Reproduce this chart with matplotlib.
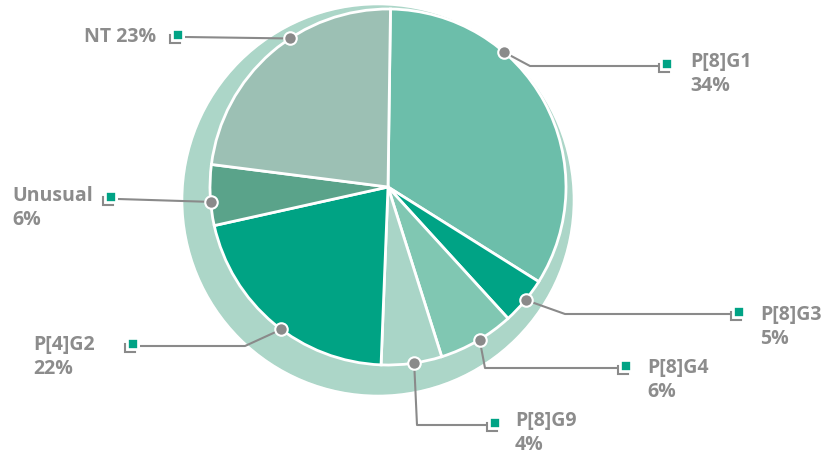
import numpy as np
import matplotlib.pyplot as plt
from matplotlib.patches import Circle, Rectangle

labels = ['P[8]G1', 'P[8]G3', 'P[8]G4', 'P[8]G9', 'P[4]G2', 'Unusual', 'NT']
# slice sizes as drawn in the picture
values = [33.7, 4.3, 6.9, 5.5, 20.9, 5.5, 23.2]
# percentages as printed in the labels
pct_text = ['34%', '5%', '6%', '4%', '22%', '6%', '23%']
colors = ['#6cbeaa', '#00a385', '#80c7b2', '#a9d5c7', '#00a384', '#5aa38a', '#9cc0b4']

W, H = 825, 456
def py(y):
    return H - y

# layout (pixel coords, y down)
cx, cy, r = 388, 188, 178
start_angle = 89.2
# where the dot sits inside each wedge (0=start, 1=end)
anchor_frac = [0.33, 0.47, 0.46, 0.46, 0.46, 0.39, 0.59]
# marker centre, elbow, text position
marker_xy = [(667, 65), (739, 313), (626, 367), (495, 424), (133, 345), (111, 198), (178, 36)]
elbow_x = [530, 565, 485, 417, 245, None, None]
text_xy = [(690, 62), (760, 315), (647, 368), (515, 421), (33, 345), (12, 196), (156, 37)]

text_color = '#8c8c8c'
line_color = '#8a8a8a'
marker_color = '#00a385'
font = dict(fontsize=14, fontweight='bold', family='Open Sans', color=text_color)

fig = plt.figure(figsize=(W / 100, H / 100), dpi=100)
ax = fig.add_axes([0, 0, 1, 1])

# shadow disc behind the pie
ax.add_patch(Circle((378, py(201)), 194, color='#acd6c8', zorder=0))

wedges, _ = ax.pie(values, colors=colors, startangle=start_angle, counterclock=False,
                   center=(cx, py(cy)), radius=r,
                   wedgeprops=dict(edgecolor='white', linewidth=2))
for w in wedges:
    w.set_zorder(2)

total = float(sum(values))
start = start_angle
for i, (lab, v) in enumerate(zip(labels, values)):
    span = 360.0 * v / total
    ang = np.deg2rad(start - span * anchor_frac[i])
    start -= span
    dx, dy = cx + r * np.cos(ang), py(cy) + r * np.sin(ang)

    mx, my = marker_xy[i]
    ly = my + 2
    right = mx > cx
    end_x = mx - 7 if right else mx + 7
    if elbow_x[i] is not None:
        xs = [dx, elbow_x[i], end_x]
        ys = [dy, py(ly), py(ly)]
    else:
        xs = [dx, end_x]
        ys = [dy, py(ly)]
    ax.plot(xs, ys, color=line_color, lw=1.5, zorder=3, solid_capstyle='butt')
    ax.plot([dx], [dy], 'o', ms=9, color=line_color, mec='white', mew=1.5, zorder=4)

    # marker: gray L corner + green square
    s = 9.5
    lx, lb = mx - s / 2 - 3, my + s / 2 + 3
    ax.plot([lx, lx, lx + s], [py(my), py(lb), py(lb)], color=line_color, lw=1.5,
            zorder=4, solid_joinstyle='miter')
    ax.add_patch(Rectangle((mx - s / 2, py(my + s / 2)), s, s, facecolor=marker_color,
                           edgecolor='white', lw=1.2, zorder=5))

    tx, ty = text_xy[i]
    if lab == 'NT':
        ax.text(tx, py(ty), lab + ' ' + pct_text[i], ha='right', va='center', **font)
    else:
        ax.text(tx, py(ty), lab, ha='left', va='center', **font)
        ax.text(tx, py(ty + 24), pct_text[i], ha='left', va='center', **font)

ax.set_xlim(0, W)
ax.set_ylim(0, H)
ax.set_aspect('auto')
ax.axis('off')

fig.savefig('out.png', dpi=100)
